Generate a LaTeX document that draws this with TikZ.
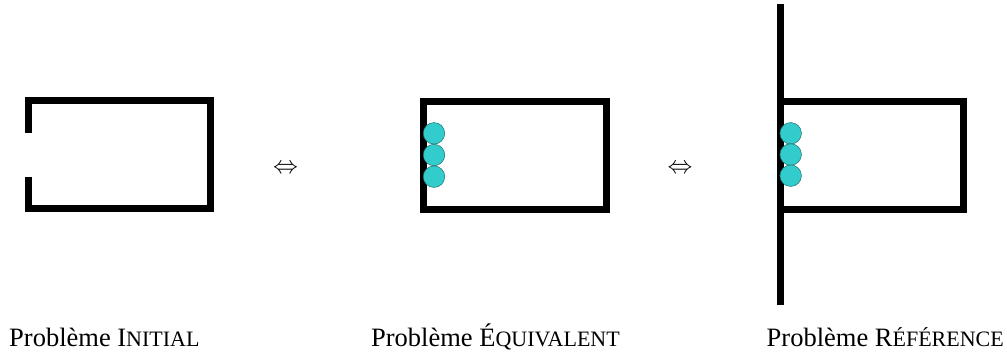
\documentclass[tikz,border=0pt]{standalone}
\usepackage{fontspec}
\setmainfont{Liberation Serif}
\definecolor{ballfill}{HTML}{33CCCC}
\definecolor{balledge}{HTML}{1F6F6F}
\newcommand{\fsc}[1]{{\fontsize{22}{26}\selectfont #1}}
\begin{document}
\begin{tikzpicture}[x=1pt,y=-1pt,
  wall/.style={line width=7pt, line join=miter, line cap=butt},
  ball/.style={circle, fill=ballfill, draw=balledge, line width=0.5pt, minimum size=21.5pt, inner sep=0pt},
  lbl/.style={font=\fontsize{26.5}{30}\selectfont, inner sep=0pt},
  eqv/.style={font=\fontsize{25}{30}\selectfont, inner sep=0pt}]
\useasboundingbox (0,0) rectangle (1007,354);
% shape 1
\draw[wall] (28.5,132.7) -- (28.5,100.5) -- (210.5,100.5) -- (210.5,208.5) -- (28.5,208.5) -- (28.5,176.7);
% shape 2
\draw[wall] (423.5,101) rectangle (606,209);
\node[ball] (b1) at (434,133.3) {};
\node[ball] (b2) at (434,155) {};
\node[ball] (b3) at (434,176.7) {};
% shape 3
\draw[wall] (780,4) -- (780,305);
\draw[wall] (780,101) -- (963,101) -- (963,209) -- (780,209);
\node[ball] (c1) at (790.7,133.3) {};
\node[ball] (c2) at (790.7,154.5) {};
\node[ball] (c3) at (790.7,175.7) {};
% equivalences
\node[eqv] (e1) at (285.5,169) {$\Leftrightarrow$};
\node[eqv] (e2) at (680,169) {$\Leftrightarrow$};
% labels
\node[lbl, anchor=base west] (l1) at (9,346) {Problème I\fsc{NITIAL}};
\node[lbl, anchor=base east] (l2) at (620,346) {Problème É\fsc{QUIVALENT}};
\node[lbl, anchor=base east] (l3) at (1004,346) {Problème R\fsc{ÉFÉRENCE}};
\end{tikzpicture}
\end{document}
